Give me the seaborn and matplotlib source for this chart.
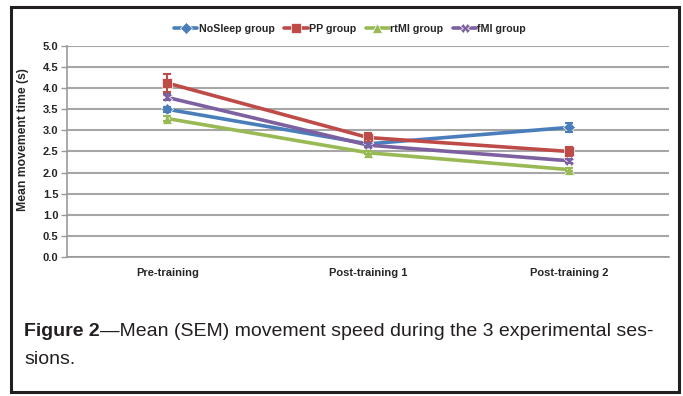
import pandas as pd
import numpy as np
import matplotlib
matplotlib.use("Agg")
import matplotlib.pyplot as plt
import seaborn as sns
from matplotlib.patches import Rectangle

# data
sessions = ["Pre-training", "Post-training 1", "Post-training 2"]
groups = ["NoSleep group", "PP group", "rtMI group", "fMI group"]
nosleep = [3.50, 2.68, 3.07]
pp = [4.12, 2.83, 2.50]
rtmi = [3.28, 2.47, 2.07]
fmi = [3.78, 2.65, 2.28]
nosleep_sem = [0.06, 0.05, 0.10]
pp_sem = [0.22, 0.10, 0.10]
rtmi_sem = [0.05, 0.04, 0.04]
fmi_sem = [0.07, 0.05, 0.05]

colors = ["#4A7EBB", "#BE4B48", "#98B954", "#7D60A0"]
markers = ["D", "s", "^", "X"]

df = pd.DataFrame({
    "session": sessions * 4,
    "group": np.repeat(groups, 3),
    "time": nosleep + pp + rtmi + fmi,
    "sem": nosleep_sem + pp_sem + rtmi_sem + fmi_sem,
})

sns.set_style("white")
plt.rcParams["font.family"] = ["Liberation Sans", "DejaVu Sans"]

fig = plt.figure(figsize=(6.83, 3.96), dpi=100)
ax = fig.add_axes([0.098, 0.351, 0.882, 0.533])

sns.lineplot(data=df, x="session", y="time", hue="group", style="group",
             palette=colors, markers=markers, dashes=False, linewidth=2.6,
             markersize=6.5, markeredgewidth=0.5, ax=ax, sort=False)

xpos = np.arange(len(sessions))
for g, c in zip(groups, colors):
    sub = df[df["group"] == g]
    ax.errorbar(xpos, sub["time"], yerr=sub["sem"], fmt="none", ecolor=c,
                elinewidth=1.5, capsize=3, capthick=1.5, zorder=3)

ax.set_xlim(-0.5, 2.5)
ax.set_ylim(0, 5)
ax.set_yticks(np.arange(0, 5.01, 0.5))
ax.set_yticklabels([f"{v:.1f}" for v in np.arange(0, 5.01, 0.5)],
                   fontsize=8, fontweight="bold")
ax.set_xticks(xpos)
ax.set_xticklabels(sessions, fontsize=8, fontweight="bold")
ax.set_xticks([0.5, 1.5, 2.5], minor=True)
ax.tick_params(axis="x", which="major", length=0, pad=8)
ax.tick_params(axis="x", which="minor", length=4, color="#999999", width=1)
ax.tick_params(axis="y", length=4, color="#999999", width=1, pad=2, left=True)
ax.set_xlabel("")
ax.set_ylabel("Mean movement time (s)", fontsize=8.8, fontweight="bold")
ax.yaxis.set_label_coords(-0.063, 0.555)

ax.grid(axis="y", color="#A6A6A6", linewidth=1.5)
ax.set_axisbelow(True)
for s in ["top", "right"]:
    ax.spines[s].set_visible(False)
for s in ["left", "bottom"]:
    ax.spines[s].set_color("#999999")
    ax.spines[s].set_linewidth(1.2)

handles, labels = ax.get_legend_handles_labels()
ax.legend(handles, labels, loc="center", bbox_to_anchor=(0.47, 1.08), ncol=4,
          frameon=False, prop={"size": 7.7, "weight": "bold"},
          handlelength=2.2, handletextpad=0.1, columnspacing=0.9)

# outer frame
fig.patches.append(Rectangle((11 / 683, 4 / 396), 668 / 683, 385 / 396,
                             transform=fig.transFigure, fill=False,
                             edgecolor="#231F20", linewidth=2.2))

# caption
cap_font = ["Liberation Sans", "DejaVu Sans"]
t1 = fig.text(24 / 683, 1 - 336 / 396, "Figure 2", fontsize=14,
              fontweight="bold", family=cap_font, color="#231F20")
fig.canvas.draw()
bb = t1.get_window_extent()
fig.text(bb.x1 / fig.bbox.width, 1 - 336 / 396,
         "\u2014Mean (SEM) movement speed during the 3 experimental ses-",
         fontsize=14, family=cap_font, color="#231F20")
fig.text(24 / 683, 1 - 364 / 396, "sions.", fontsize=14, family=cap_font,
         color="#231F20")

fig.savefig("out.png", dpi=100)
